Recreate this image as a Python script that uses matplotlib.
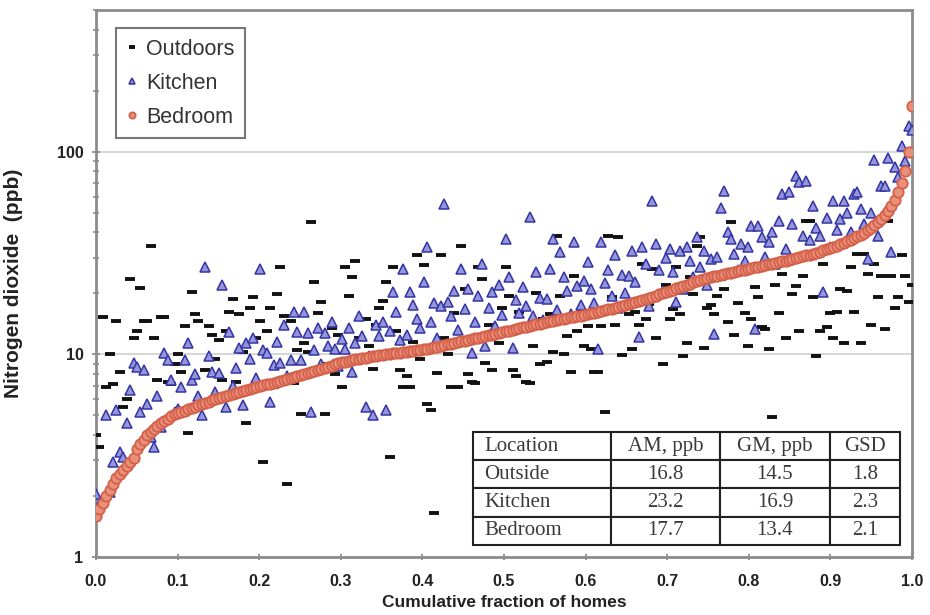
import numpy as np
import matplotlib.pyplot as plt
from matplotlib.ticker import FixedLocator, NullFormatter, LogLocator

plt.rcParams['font.family'] = ['Liberation Sans', 'DejaVu Sans']

# NO2 per home, homes ranked by bedroom concentration (ppb)
bedroom = [
    1.60, 1.72, 1.85, 2.00, 2.15, 2.30, 2.45, 2.58, 2.70, 2.82, 2.95, 3.08,
    3.40, 3.60, 3.80, 3.98, 4.15, 4.30, 4.45, 4.58, 4.70, 4.82, 4.94, 5.05,
    5.12, 5.20, 5.28, 5.36, 5.44, 5.52, 5.60, 5.68, 5.76, 5.84, 5.92, 6.00,
    6.08, 6.15, 6.22, 6.30, 6.37, 6.44, 6.52, 6.60, 6.68, 6.76, 6.84, 6.92,
    7.00, 7.06, 7.12, 7.18, 7.25, 7.32, 7.40, 7.48, 7.56, 7.64, 7.72, 7.80,
    7.88, 7.96, 8.05, 8.14, 8.24, 8.34, 8.45, 8.56, 8.68, 8.80, 8.92, 9.04,
    9.12, 9.20, 9.28, 9.36, 9.44, 9.52, 9.58, 9.64, 9.70, 9.76, 9.82, 9.88,
    9.94, 10.0, 10.05, 10.1, 10.15, 10.2, 10.25, 10.3, 10.36, 10.42, 10.48, 10.54,
    10.6, 10.68, 10.76, 10.84, 10.92, 11.0, 11.1, 11.2, 11.3, 11.4, 11.5, 11.6,
    11.7, 11.8, 11.9, 12.0, 12.1, 12.2, 12.3, 12.4, 12.5, 12.62, 12.74, 12.86,
    12.98, 13.1, 13.22, 13.34, 13.46, 13.58, 13.7, 13.82, 13.94, 14.06, 14.18, 14.3,
    14.42, 14.54, 14.66, 14.78, 14.9, 15.0, 15.1, 15.2, 15.3, 15.42, 15.54, 15.66,
    15.8, 15.94, 16.08, 16.22, 16.36, 16.5, 16.66, 16.82, 16.98, 17.14, 17.3, 17.48,
    17.66, 17.84, 18.04, 18.26, 18.5, 18.74, 18.98, 19.22, 19.48, 19.74, 20.0, 20.26,
    20.54, 20.84, 21.14, 21.44, 21.74, 22.04, 22.34, 22.64, 22.94, 23.22, 23.5, 23.76,
    24.0, 24.24, 24.46, 24.68, 24.9, 25.1, 25.32, 25.54, 25.76, 25.98, 26.2, 26.42,
    26.64, 26.86, 27.08, 27.3, 27.52, 27.76, 28.0, 28.24, 28.5, 28.76, 29.02, 29.28,
    29.56, 29.84, 30.14, 30.44, 30.76, 31.08, 31.42, 31.78, 32.16, 32.56, 32.98, 33.42,
    33.9, 34.4, 34.95, 35.5, 36.1, 36.75, 37.45, 38.2, 39.0, 39.9, 40.9, 42.0,
    43.3, 44.8, 46.5, 48.5, 51.0, 54.0, 58.0, 63.0, 70.0, 80.0, 100.0, 168.0,
]

kitchen = [
    2.05, 1.80, 1.95, 5.0, 2.1, 2.95, 5.3, 3.3, 3.1, 4.6, 6.7, 9.1,
    8.7, 5.2, 8.4, 5.7, 3.9, 3.5, 6.2, 4.4, 10.2, 9.4, 7.5, 5.2,
    5.35, 6.9, 9.4, 11.4, 7.5, 8.0, 6.2, 5.0, 27.0, 9.8, 8.2, 6.5,
    8.1, 22.0, 5.5, 12.9, 7.0, 8.6, 10.8, 5.6, 11.4, 9.5, 12.0, 7.6,
    26.3, 10.5, 10.2, 5.85, 8.9, 11.5, 9.1, 14.0, 7.8, 9.4, 16.2, 12.9,
    9.4, 16.2, 12.8, 5.2, 10.5, 13.5, 9.0, 12.8, 11.0, 14.5, 10.6, 8.8,
    11.9, 10.6, 13.5, 8.2, 11.4, 15.4, 12.3, 5.5, 9.8, 5.0, 14.0, 12.3,
    14.4, 5.3, 13.0, 20.2, 16.2, 11.8, 26.3, 12.5, 20.2, 17.5, 15.0, 13.5,
    22.7, 33.8, 14.4, 18.0, 12.0, 17.3, 55.0, 18.1, 15.5, 20.5, 13.2, 26.3,
    16.7, 21.0, 10.2, 14.5, 19.4, 27.9, 11.0, 17.0, 20.2, 13.8, 22.0, 15.6,
    37.0, 24.0, 10.8, 18.5, 16.0, 21.5, 17.3, 47.7, 15.5, 25.5, 19.0, 14.8,
    18.7, 26.3, 37.0, 16.5, 32.0, 24.0, 20.5, 15.8, 35.8, 21.7, 17.5, 23.0,
    28.5, 21.0, 18.0, 10.6, 36.0, 22.5, 26.0, 19.5, 31.0, 17.0, 24.5, 20.0,
    24.4, 32.4, 22.7, 12.2, 34.0, 28.0, 17.3, 57.0, 35.0, 26.0, 20.5, 30.0,
    33.0, 25.5, 18.1, 32.4, 21.0, 34.0, 28.8, 24.0, 38.0, 27.0, 32.4, 22.0,
    29.6, 12.6, 30.3, 53.0, 64.0, 40.0, 37.0, 31.2, 26.0, 35.0, 29.0, 34.0,
    43.0, 13.3, 43.0, 38.0, 30.3, 35.8, 40.0, 28.0, 45.5, 62.0, 33.0, 63.0,
    44.0, 76.0, 71.0, 38.5, 72.0, 36.5, 54.0, 42.0, 38.5, 20.2, 47.0, 34.0,
    57.0, 41.0, 46.5, 57.0, 50.0, 40.0, 62.0, 63.0, 52.0, 44.0, 29.6, 50.0,
    91.0, 38.5, 68.0, 68.0, 93.0, 32.0, 84.0, 75.0, 107.0, 90.0, 134.0, 128.0,
]

outdoors = [
    4.0, 3.5, 15.3, 6.9, 10.0, 7.1, 14.6, 8.2, 5.5, 6.0, 23.5, 12.0,
    13.0, 21.2, 14.6, 14.6, 34.3, 12.1, 7.5, 15.3, 15.3, 7.3, 7.1, 9.0,
    10.0, 8.2, 13.8, 4.1, 20.2, 15.8, 14.6, 5.5, 8.4, 13.8, 12.5, 9.5,
    11.8, 7.5, 13.0, 16.2, 18.7, 7.3, 15.8, 10.3, 4.6, 17.0, 19.1, 12.0,
    14.6, 2.95, 13.0, 17.0, 6.9, 19.8, 27.0, 15.4, 2.3, 14.6, 7.2, 10.5,
    5.1, 11.4, 10.3, 45.0, 22.7, 16.0, 18.1, 5.1, 9.0, 13.5, 8.0, 12.5,
    6.9, 27.0, 19.4, 24.0, 28.8, 12.0, 9.5, 15.0, 11.0, 8.5, 14.0, 17.0,
    18.3, 22.7, 3.1, 27.0, 13.0, 8.4, 6.9, 7.8, 6.9, 11.5, 31.0, 9.5,
    27.5, 5.7, 5.3, 1.65, 8.1, 31.0, 12.0, 10.0, 6.9, 16.0, 6.9, 34.3,
    21.0, 8.0, 7.3, 7.2, 27.0, 23.5, 9.1, 14.0, 8.4, 12.5, 11.4, 17.0,
    27.0, 19.4, 8.4, 7.8, 16.2, 13.0, 7.3, 7.2, 11.0, 20.0, 9.0, 15.0,
    9.2, 15.8, 10.3, 38.5, 19.4, 10.0, 12.3, 8.2, 24.4, 13.0, 16.5, 11.0,
    13.8, 10.6, 8.2, 8.2, 13.8, 5.2, 38.5, 19.1, 14.0, 38.0, 9.9, 17.0,
    15.8, 10.6, 16.2, 14.0, 28.0, 14.9, 17.7, 26.3, 12.0, 20.0, 9.0, 22.0,
    14.9, 16.7, 27.0, 15.8, 9.8, 11.4, 24.0, 19.8, 34.3, 38.0, 10.8, 17.0,
    17.6, 15.8, 19.4, 23.5, 21.0, 14.4, 45.0, 12.5, 18.0, 26.0, 16.0, 11.0,
    14.9, 21.4, 19.1, 13.6, 13.3, 10.6, 4.9, 22.0, 16.0, 25.0, 12.0, 30.0,
    19.8, 21.7, 13.0, 24.4, 45.5, 45.5, 19.1, 9.8, 13.0, 28.0, 13.6, 16.0,
    12.1, 16.2, 21.0, 11.4, 20.5, 27.0, 16.2, 31.2, 11.4, 31.2, 25.0, 14.0,
    28.0, 19.1, 24.4, 13.3, 45.5, 24.4, 17.0, 19.1, 31.0, 24.4, 18.1, 22.0,
]

table_cols = ['Location', 'AM, ppb', 'GM, ppb', 'GSD']
table_rows = [
    ['Outside', '16.8', '14.5', '1.8'],
    ['Kitchen', '23.2', '16.9', '2.3'],
    ['Bedroom', '17.7', '13.4', '2.1'],
]
col_widths = [138, 109, 110, 70]

n = len(bedroom)
frac = np.arange(n) / (n - 1)

fig = plt.figure(figsize=(9.3, 6.15), dpi=100)
ax = fig.add_axes([0.1032, 0.0943, 0.8774, 0.8894])

ax.plot(frac, outdoors, ls='none', marker='_', ms=6.5, mew=2.8, color='#111111', label='Outdoors', zorder=3)
ax.plot(frac, kitchen, ls='none', marker='^', ms=6.5, mew=1.1, mec='#3434a6', mfc='#9396d8', label='Kitchen', zorder=4)
ax.plot(frac, bedroom, ls='none', marker='o', ms=7.5, mew=1.3, mec='#d4604a', mfc='#e8907a', label='Bedroom', zorder=5)

ax.set_yscale('log')
ax.set_ylim(1, 500)
ax.set_xlim(0, 1)
ax.yaxis.set_major_locator(FixedLocator([1, 10, 100]))
ax.yaxis.set_major_formatter(plt.FuncFormatter(lambda v, p: '%d' % v))
ax.yaxis.set_minor_locator(LogLocator(base=10, subs=np.arange(2, 10)))
ax.yaxis.set_minor_formatter(NullFormatter())
ax.set_xticks(np.arange(0, 1.01, 0.1))
ax.set_xticklabels(['%.1f' % t for t in np.arange(0, 1.01, 0.1)])

ax.yaxis.grid(True, which='major', color='#cfcfcf', lw=1.2)
ax.set_axisbelow(True)

for s in ax.spines.values():
    s.set_color('#8c8c8c')
    s.set_linewidth(2)
ax.tick_params(axis='both', which='major', direction='inout', length=6, width=1.3, color='#8c8c8c',
               labelsize=11.5, pad=6)
ax.tick_params(axis='y', which='minor', direction='inout', length=4, width=1.2, color='#8c8c8c')
ax.tick_params(axis='x', which='major', length=4, pad=10)
for lab in ax.get_xticklabels() + ax.get_yticklabels():
    lab.set_fontweight('bold')
    lab.set_color('#222222')

ax.set_ylabel('Nitrogen dioxide  (ppb)', fontsize=15, fontweight='bold', color='#222222')
ax.yaxis.set_label_coords(-0.089, 0.5)
ax.set_xlabel('Cumulative fraction of homes', fontsize=12.5, fontweight='bold', color='#222222',
              va='center')
ax.xaxis.set_label_coords(0.5, -0.083)

leg = ax.legend(loc='upper left', bbox_to_anchor=(0.0245, 0.967), fancybox=False, framealpha=1,
                edgecolor='#777777', fontsize=15.5, handlelength=0.5, handletextpad=0.4,
                labelspacing=0.6, borderpad=0.5, borderaxespad=0, markerscale=0.6)
leg.get_frame().set_linewidth(1.5)
for t in leg.get_texts():
    t.set_color('#333333')

tab = ax.table(cellText=table_rows, colLabels=table_cols,
               colWidths=[w / sum(col_widths) for w in col_widths],
               cellLoc='center', bbox=[0.462, 0.022, 0.5233, 0.2066])
tab.auto_set_font_size(False)
tab.set_zorder(10)
for (r, c), cell in tab.get_celld().items():
    cell.set_edgecolor('#222222')
    cell.set_linewidth(1.5)
    cell.set_facecolor('white')
    cell.get_text().set_fontfamily('Liberation Serif')
    cell.get_text().set_fontsize(15)
    cell.get_text().set_color('#3a3a3a')
    if c == 0:
        cell._loc = 'left'
        cell.get_text().set_horizontalalignment('left')
        cell.PAD = 0.08

fig.savefig('out.png', dpi=100)
